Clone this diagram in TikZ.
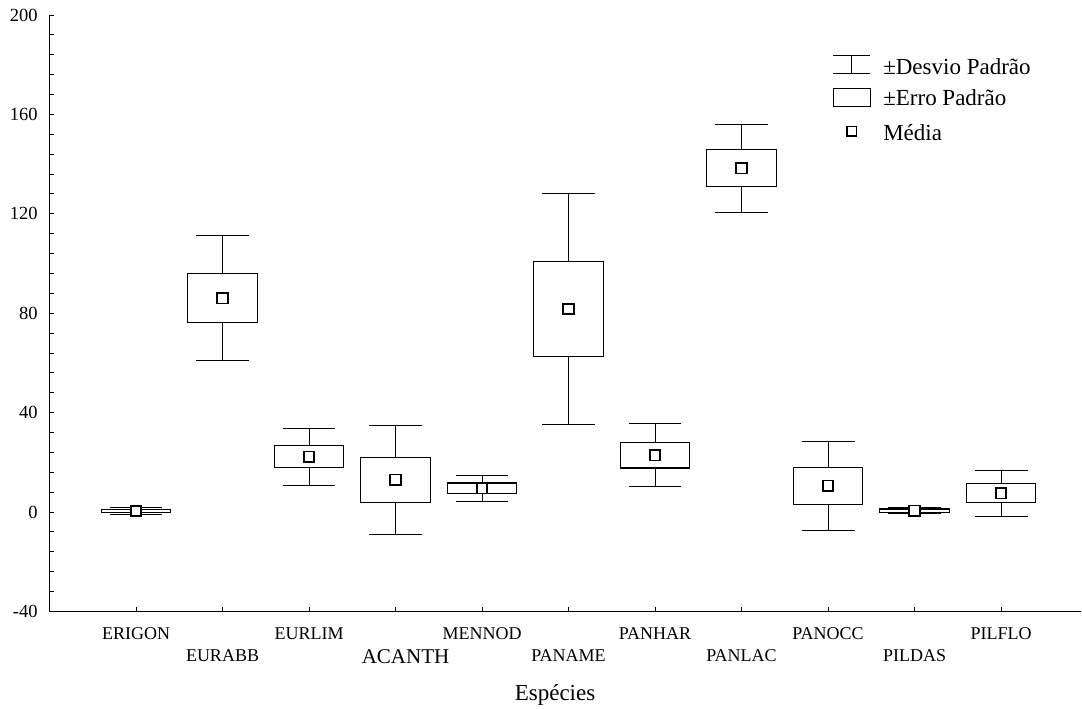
\documentclass[tikz,border=0pt]{standalone}
\usepackage{fontspec}
\setmainfont{Liberation Serif}

\begin{document}
\begin{tikzpicture}[x = 86.5pt, y = 2.485pt,
    whisker/.style = {line width = .9pt},
    errbox/.style = {line width = 1.1pt, fill = white},
    meanmark/.style = {draw, fill = white, line width = 1.6pt,
        minimum size = 10.5pt, inner sep = 0},
    catlabel/.style = {anchor = base, inner sep = 0,
        font = \fontsize{18}{20}\selectfont},
    legtext/.style = {anchor = base west, inner sep = 0,
        font = \fontsize{23}{25}\selectfont}]
    \useasboundingbox (-0.5723, -78.87) rectangle (11.936, 206.04);

    %% axis
    \draw[line width = 1.2pt] (0, 200) -- (0, -40) -- (11.93, -40);

    %% scale
    \foreach \v in {-40, -32, ..., 200}
        \draw[whisker] (0, \v) -- +(4pt, 0);
    \foreach \v in {-40, 0, ..., 200}
        \node[anchor = east, inner sep = 0, font = \fontsize{18.5}{20}\selectfont]
            (t\v) at (-0.136, \v) {\v};
    \foreach \x in {1, ..., 11}
        \draw[whisker] (\x, -40) -- +(0, 4pt);

    %% boxes
    \foreach \x/\m/\se/\sd in {1/0.4/0.7/1.3, 2/86.1/10/25, 3/22.3/4.5/11.5,
        4/13/9/22, 5/9.5/2.2/5.1, 6/81.7/19/46.5, 7/22.9/5.2/12.7,
        8/138.3/7.4/17.8, 9/10.5/7.3/18, 10/0.5/0.7/1.2, 11/7.6/3.9/9.3} {
        \draw[whisker] (\x, \m-\sd) -- (\x, \m+\sd)
            (\x-.306, \m-\sd) -- (\x+.306, \m-\sd)
            (\x-.306, \m+\sd) -- (\x+.306, \m+\sd);
        \draw[errbox] (\x-.402, \m-\se) rectangle (\x+.402, \m+\se);
        \node[meanmark] (m\x) at (\x, \m) {};
    }

    %% species
    \foreach \x/\name in {1/ERIGON, 3/EURLIM, 5/MENNOD, 7/PANHAR, 9/PANOCC, 11/PILFLO}
        \node[catlabel] (c\x) at (\x, -51.1) {\name};
    \foreach \x/\name in {2/EURABB, 6/PANAME, 8/PANLAC, 10/PILDAS}
        \node[catlabel] (c\x) at (\x, -60.2) {\name};
    \node[catlabel, font = \fontsize{21}{23}\selectfont] (c4) at (4.116, -60.8) {ACANTH};
    \node[anchor = base, inner sep = 0, font = \fontsize{23}{25}\selectfont]
        (xlabel) at (5.844, -75.7) {Espécies};

    %% legend
    \draw[whisker] (9.058, 183.8) -- (9.486, 183.8) (9.058, 176.5) -- (9.486, 176.5)
        (9.272, 183.8) -- (9.272, 176.5);
    \draw[errbox] (9.058, 170.3) rectangle (9.486, 163.1);
    \node[meanmark, minimum size = 9.5pt, line width = 1.4pt] (lm) at (9.272, 153.2) {};
    \node[legtext] (l1) at (9.636, 176.0) {±Desvio Padrão};
    \node[legtext] (l2) at (9.636, 163.4) {±Erro Padrão};
    \node[legtext] (l3) at (9.636, 149.4) {Média};
\end{tikzpicture}
\end{document}
